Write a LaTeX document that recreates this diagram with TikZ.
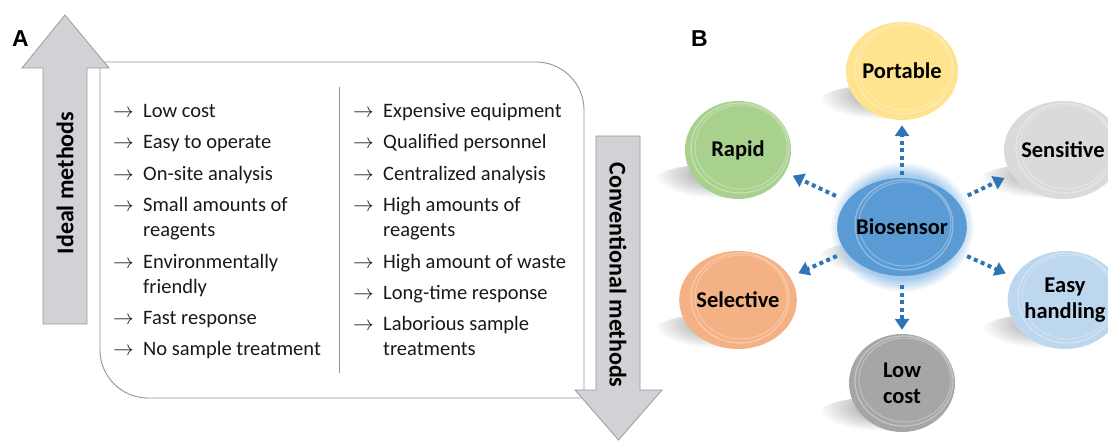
\documentclass[tikz,border=0pt]{standalone}
\usepackage{fontspec}
\setmainfont{Carlito}
\newfontfamily\panelfont{Liberation Sans}
\usetikzlibrary{arrows.meta,shapes.geometric,fadings}

\definecolor{framegray}{HTML}{8C96A0}
\definecolor{arrowgray}{HTML}{D2D2D6}
\definecolor{arrowedge}{HTML}{9A9A9E}
\definecolor{dotblue}{HTML}{2E75B6}
\definecolor{glowblue}{HTML}{A6CBEC}
\definecolor{portyellow}{HTML}{FFE38E}
\definecolor{rapidgreen}{HTML}{A9D18E}
\definecolor{sensgray}{HTML}{DADADA}
\definecolor{biosblue}{HTML}{5B9BD5}
\definecolor{selorange}{HTML}{F4B183}
\definecolor{easyblue}{HTML}{BDD7EE}
\definecolor{lowgray}{HTML}{A6A6A6}

\tikzset{
  listitem/.style={font=\fontsize{20.5}{25}\selectfont, anchor=base west, inner sep=0pt, text=black!90},
  sidelabel/.style={font=\fontsize{24}{29}\selectfont\bfseries, inner sep=0pt},
  bigarrow/.style={fill=arrowgray, draw=arrowedge, line width=0.8pt},
  frameline/.style={draw=framegray, line width=0.9pt},
  panellabel/.style={font=\panelfont\fontsize{23}{23}\selectfont\bfseries, anchor=base west, inner sep=0pt},
  plate/.style={ellipse, minimum width=106pt, minimum height=98pt, inner sep=0pt, fill=#1,
    align=center, font=\fontsize{22.5}{26}\selectfont\bfseries,
    path picture={
      \draw[white, opacity=.35, line width=1.2pt]
        ([shift={(2,-2)}]path picture bounding box.center) ellipse [x radius=49, y radius=45];
      \draw[white, opacity=.3, line width=1pt]
        ([shift={(3,-3)}]path picture bounding box.center) ellipse [x radius=46, y radius=42];}},
  floorshadow/.style={inner color=black!40, outer color=white},
  dotarrow/.style={draw=dotblue, line width=4pt, dash pattern=on 4pt off 3.5pt,
    -{Triangle[length=11pt,width=14pt]}},
}

\begin{document}
\begin{tikzpicture}[x=1pt,y=-1pt]
\useasboundingbox (0,0) rectangle (1108,441);

% centres of the plates
\coordinate (cPort) at (902,71);
\coordinate (cRapid) at (738,150);
\coordinate (cSens) at (1063,150);
\coordinate (cBio) at (902,227);
\coordinate (cSel) at (738,300);
\coordinate (cEasy) at (1065,300);
\coordinate (cLow) at (902,383);

% shadows on the floor, glow
\foreach \c in {cPort,cRapid,cSens,cBio,cSel,cEasy,cLow}
  \shade[floorshadow] (\c) ++(-22,31) ellipse [x radius=62, y radius=17];
\fill[glowblue, path fading=circle with fuzzy edge 20 percent] (cBio) ellipse [x radius=72, y radius=65];

% panel A
\node[panellabel] (labA) at (12,47) {A};
\draw[frameline] (100,62) -- (536,62) .. controls (562.5,62) and (584,83.5) .. (584,110)
  -- (584,398) -- (148,398) .. controls (121.5,398) and (100,376.5) .. (100,350) -- cycle;
\draw[frameline] (339,87) -- (339,373);

\draw[bigarrow] (43,324) -- (43,68) -- (22,68) -- (65,15) -- (109,68) -- (87,68) -- (87,324) -- cycle;
\node[sidelabel, rotate=90] (ideal) at (65,183) {Ideal methods};
\draw[bigarrow] (596,136) -- (640,136) -- (640,390) -- (662,390) -- (618.5,440) -- (575,390) -- (596,390) -- cycle;
\node[sidelabel, rotate=-90] (conv) at (618,275) {Conventional methods};

\foreach \y/\txt [count=\i] in {118/Low cost, 149/Easy to operate, 180/On-site analysis,
    211/Small amounts of, 268/Environmentally, 324/Fast response, 355/No sample treatment}{
  \node[listitem] (la\i) at (113,\y) {$\rightarrow$};
  \node[listitem] (lt\i) at (143,\y) {\txt};
}
\foreach \y/\txt [count=\i] in {236/reagents, 293/friendly}
  \node[listitem] (lc\i) at (143,\y) {\txt};

\foreach \y/\txt [count=\i] in {118/Expensive equipment, 149/Qualified personnel,
    180/Centralized analysis, 211/High amounts of, 268/High amount of waste,
    299/Long-time response, 330/Laborious sample}{
  \node[listitem] (ra\i) at (353,\y) {$\rightarrow$};
  \node[listitem] (rt\i) at (383,\y) {\txt};
}
\foreach \y/\txt [count=\i] in {236/reagents, 355/treatments}
  \node[listitem] (rc\i) at (383,\y) {\txt};

% panel B
\node[panellabel] (labB) at (691,47) {B};
\node[plate=portyellow] (port) at (cPort) {Portable};
\node[plate=rapidgreen] (rapid) at (cRapid) {Rapid};
\node[plate=sensgray] (sens) at (cSens) {Sensitive};
\node[plate=biosblue] (bio) at (cBio) {Biosensor};
\node[plate=selorange] (sel) at (cSel) {Selective};
\node[plate=easyblue] (easy) at (cEasy) {Easy\\handling};
\node[plate=lowgray] (low) at (cLow) {Low\\cost};

\draw[dotarrow, shorten <=3pt, shorten >=5pt] (bio) -- (port);
\draw[dotarrow, shorten <=9pt, shorten >=4pt] (bio) -- (low);
\draw[dotarrow, shorten <=12pt, shorten >=8pt] (bio) -- (rapid);
\draw[dotarrow, shorten <=12pt, shorten >=8pt] (bio) -- (sens);
\draw[dotarrow, shorten <=10pt, shorten >=9pt] (bio) -- (sel);
\draw[dotarrow, shorten <=10pt, shorten >=9pt] (bio) -- (easy);
\end{tikzpicture}
\end{document}
